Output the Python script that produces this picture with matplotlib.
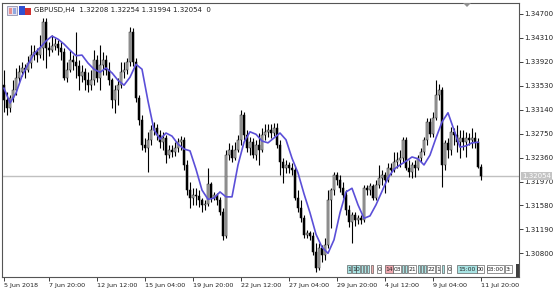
import matplotlib
matplotlib.use('Agg')
import matplotlib.pyplot as plt
from matplotlib.patches import Rectangle, Polygon
import numpy as np

header = 'GBPUSD,H4  1.32208 1.32254 1.31994 1.32054  0'
last_price = 1.32054

opens = [1.3354, 1.3330, 1.3317, 1.3333, 1.3346, 1.3366, 1.3375, 1.3382, 1.3379, 1.3390,
         1.3403, 1.3408, 1.3403, 1.3415, 1.3457, 1.3415, 1.3411, 1.3418, 1.3421, 1.3415,
         1.3408, 1.3366, 1.3379, 1.3395, 1.3392, 1.3385, 1.3369, 1.3375, 1.3362, 1.3354,
         1.3362, 1.3395, 1.3366, 1.3387, 1.3395, 1.3379, 1.3362, 1.3330, 1.3346, 1.3354,
         1.3375, 1.3379, 1.3392, 1.3441, 1.3392, 1.3333, 1.3297, 1.3256, 1.3252, 1.3265,
         1.3281, 1.3284, 1.3273, 1.3261, 1.3268, 1.3240, 1.3248, 1.3245, 1.3252, 1.3261,
         1.3265, 1.3224, 1.3183, 1.3170, 1.3175, 1.3173, 1.3167, 1.3159, 1.3160, 1.3193,
         1.3170, 1.3175, 1.3167, 1.3147, 1.3108, 1.3240, 1.3248, 1.3235, 1.3248, 1.3265,
         1.3305, 1.3273, 1.3252, 1.3261, 1.3240, 1.3256, 1.3248, 1.3273, 1.3278, 1.3281,
         1.3276, 1.3284, 1.3256, 1.3229, 1.3219, 1.3224, 1.3219, 1.3216, 1.3170, 1.3154,
         1.3137, 1.3110, 1.3113, 1.3108, 1.3082, 1.3056, 1.3089, 1.3077, 1.3093, 1.3167,
         1.3183, 1.3208, 1.3199, 1.3186, 1.3175, 1.3150, 1.3131, 1.3142, 1.3134, 1.3137,
         1.3134, 1.3186, 1.3183, 1.3190, 1.3170, 1.3191, 1.3203, 1.3208, 1.3199, 1.3219,
         1.3216, 1.3229, 1.3232, 1.3235, 1.3265, 1.3219, 1.3212, 1.3224, 1.3219, 1.3235,
         1.3245, 1.3265, 1.3294, 1.3274, 1.3300, 1.3338, 1.3346, 1.3224, 1.3260, 1.3248,
         1.3278, 1.3273, 1.3261, 1.3268, 1.3261, 1.3268, 1.3265, 1.3268, 1.3261, 1.32208]

highs = [1.3379, 1.3343, 1.3338, 1.3362, 1.3382, 1.3387, 1.3392, 1.3388, 1.3402, 1.3419,
         1.3419, 1.3415, 1.3436, 1.3463, 1.3463, 1.3424, 1.3436, 1.3431, 1.3428, 1.3424,
         1.3415, 1.3392, 1.3411, 1.3403, 1.3441, 1.3395, 1.3387, 1.3382, 1.3375, 1.3379,
         1.3411, 1.3403, 1.3419, 1.3408, 1.3403, 1.3392, 1.3366, 1.3354, 1.3366, 1.3392,
         1.3392, 1.3398, 1.3449, 1.3447, 1.3398, 1.3338, 1.3305, 1.3268, 1.3278, 1.3289,
         1.3294, 1.3291, 1.3281, 1.3278, 1.3273, 1.3256, 1.3256, 1.3261, 1.3268, 1.3271,
         1.3270, 1.3232, 1.3196, 1.3186, 1.3186, 1.3183, 1.3170, 1.3167, 1.3219, 1.3196,
         1.3180, 1.3178, 1.3172, 1.3154, 1.3248, 1.3260, 1.3256, 1.3261, 1.3273, 1.3314,
         1.3310, 1.3281, 1.3270, 1.3268, 1.3265, 1.3276, 1.3284, 1.3291, 1.3291, 1.3291,
         1.3292, 1.3292, 1.3265, 1.3235, 1.3232, 1.3229, 1.3227, 1.3222, 1.3183, 1.3167,
         1.3142, 1.3118, 1.3116, 1.3115, 1.3097, 1.3097, 1.3093, 1.3105, 1.3183, 1.3186,
         1.3212, 1.3212, 1.3208, 1.3196, 1.3183, 1.3159, 1.3147, 1.3147, 1.3142, 1.3142,
         1.3191, 1.3191, 1.3195, 1.3193, 1.3199, 1.3224, 1.3216, 1.3212, 1.3227, 1.3227,
         1.3245, 1.3245, 1.3248, 1.3270, 1.3270, 1.3232, 1.3229, 1.3232, 1.3240, 1.3252,
         1.3270, 1.3300, 1.3300, 1.3310, 1.3362, 1.3356, 1.3351, 1.3265, 1.3268, 1.3286,
         1.3284, 1.3289, 1.3281, 1.3281, 1.3278, 1.3276, 1.3284, 1.3278, 1.3268, 1.32254]

lows = [1.3310, 1.3305, 1.3310, 1.3327, 1.3338, 1.3359, 1.3369, 1.3366, 1.3375, 1.3382,
        1.3395, 1.3392, 1.3398, 1.3395, 1.3382, 1.3402, 1.3408, 1.3411, 1.3403, 1.3395,
        1.3362, 1.3359, 1.3375, 1.3379, 1.3366, 1.3346, 1.3359, 1.3346, 1.3343, 1.3346,
        1.3354, 1.3359, 1.3346, 1.3371, 1.3371, 1.3354, 1.3317, 1.3309, 1.3322, 1.3349,
        1.3366, 1.3372, 1.3385, 1.3385, 1.3327, 1.3289, 1.3248, 1.3245, 1.3212, 1.3256,
        1.3273, 1.3265, 1.3252, 1.3248, 1.3227, 1.3235, 1.3237, 1.3239, 1.3245, 1.3248,
        1.3216, 1.3175, 1.3154, 1.3159, 1.3159, 1.3155, 1.3147, 1.3150, 1.3157, 1.3164,
        1.3167, 1.3159, 1.3142, 1.3102, 1.3105, 1.3232, 1.3229, 1.3232, 1.3245, 1.3256,
        1.3265, 1.3245, 1.3240, 1.3235, 1.3232, 1.3224, 1.3245, 1.3265, 1.3270, 1.3268,
        1.3271, 1.3252, 1.3208, 1.3195, 1.3211, 1.3211, 1.3208, 1.3167, 1.3147, 1.3131,
        1.3105, 1.3105, 1.3102, 1.3077, 1.3049, 1.3053, 1.3066, 1.3069, 1.3089, 1.3121,
        1.3175, 1.3191, 1.3180, 1.3170, 1.3142, 1.3123, 1.3097, 1.3124, 1.3128, 1.3128,
        1.3131, 1.3175, 1.3175, 1.3167, 1.3167, 1.3186, 1.3191, 1.3178, 1.3196, 1.3208,
        1.3212, 1.3219, 1.3221, 1.3229, 1.3216, 1.3204, 1.3203, 1.3204, 1.3216, 1.3229,
        1.3240, 1.3256, 1.3270, 1.3270, 1.3297, 1.3330, 1.3188, 1.3216, 1.3235, 1.3240,
        1.3256, 1.3245, 1.3235, 1.3248, 1.3237, 1.3256, 1.3252, 1.3252, 1.3219, 1.31994]

closes = [1.3330, 1.3317, 1.3333, 1.3346, 1.3366, 1.3375, 1.3382, 1.3379, 1.3390, 1.3403,
          1.3408, 1.3403, 1.3415, 1.3457, 1.3415, 1.3411, 1.3418, 1.3421, 1.3415, 1.3408,
          1.3366, 1.3379, 1.3395, 1.3392, 1.3385, 1.3369, 1.3375, 1.3362, 1.3354, 1.3362,
          1.3395, 1.3366, 1.3387, 1.3395, 1.3379, 1.3362, 1.3330, 1.3346, 1.3354, 1.3375,
          1.3379, 1.3392, 1.3441, 1.3392, 1.3333, 1.3297, 1.3256, 1.3252, 1.3265, 1.3281,
          1.3284, 1.3273, 1.3261, 1.3268, 1.3240, 1.3248, 1.3245, 1.3252, 1.3261, 1.3265,
          1.3224, 1.3183, 1.3170, 1.3175, 1.3173, 1.3167, 1.3159, 1.3160, 1.3193, 1.3170,
          1.3175, 1.3167, 1.3147, 1.3108, 1.3240, 1.3248, 1.3235, 1.3248, 1.3265, 1.3305,
          1.3273, 1.3252, 1.3261, 1.3240, 1.3256, 1.3248, 1.3273, 1.3278, 1.3281, 1.3276,
          1.3284, 1.3256, 1.3229, 1.3219, 1.3224, 1.3219, 1.3216, 1.3170, 1.3154, 1.3137,
          1.3110, 1.3113, 1.3108, 1.3082, 1.3056, 1.3089, 1.3077, 1.3093, 1.3167, 1.3183,
          1.3208, 1.3199, 1.3186, 1.3175, 1.3150, 1.3131, 1.3142, 1.3134, 1.3137, 1.3134,
          1.3186, 1.3183, 1.3190, 1.3170, 1.3191, 1.3203, 1.3208, 1.3199, 1.3219, 1.3216,
          1.3229, 1.3232, 1.3235, 1.3265, 1.3219, 1.3212, 1.3224, 1.3219, 1.3235, 1.3245,
          1.3265, 1.3294, 1.3274, 1.3300, 1.3338, 1.3346, 1.3224, 1.3260, 1.3248, 1.3278,
          1.3273, 1.3261, 1.3268, 1.3261, 1.3268, 1.3265, 1.3268, 1.3261, 1.3221, 1.32054]

# moving average, read every second bar
ma = [1.3349, 1.3325, 1.3341, 1.3369, 1.3388, 1.3405, 1.3415, 1.3426, 1.3434, 1.3429,
      1.3421, 1.3411, 1.3402, 1.3403, 1.3390, 1.3380, 1.3375, 1.3382, 1.3374, 1.3362,
      1.3354, 1.3367, 1.3388, 1.3380, 1.3328, 1.3281, 1.3266, 1.3276, 1.3271, 1.3258,
      1.3250, 1.3247, 1.3217, 1.3183, 1.3168, 1.3170, 1.3180, 1.3172, 1.3172, 1.3224,
      1.3261, 1.3278, 1.3274, 1.3263, 1.3260, 1.3268, 1.3276, 1.3265, 1.3235, 1.3211,
      1.3177, 1.3146, 1.3111, 1.3090, 1.3080, 1.3102, 1.3146, 1.3180, 1.3186, 1.3159,
      1.3137, 1.3141, 1.3159, 1.3181, 1.3203, 1.3217, 1.3224, 1.3230, 1.3237, 1.3234,
      1.3224, 1.3240, 1.3268, 1.3294, 1.3309, 1.3281, 1.3253, 1.3255, 1.3260, 1.3261]

tick_bars = [0, 15, 31, 47, 63, 79, 95, 111, 127, 143, 159]
tick_labels = ['5 Jun 2018', '7 Jun 20:00', '12 Jun 12:00', '15 Jun 04:00',
               '19 Jun 20:00', '22 Jun 12:00', '27 Jun 04:00', '29 Jun 20:00',
               '4 Jul 12:00', '9 Jul 04:00', '11 Jul 20:00']
price_ticks = [1.34700, 1.34310, 1.33920, 1.33530, 1.33140, 1.32750,
               1.32360, 1.31970, 1.31580, 1.31190, 1.30800]

W, H = 560, 294
fig = plt.figure(figsize=(W / 100, H / 100), dpi=100)
fig.patch.set_facecolor('white')
ax = fig.add_axes([2 / W, 17 / H, 517 / W, 274 / H])

o = np.array(opens); h = np.array(highs); l = np.array(lows); c = np.array(closes)
x = np.arange(len(c))
up = c >= o

ax.axhline(last_price, color='#c0c0c0', lw=1, zorder=1)
ax.vlines(x, l, h, color='black', lw=0.8, zorder=2)
body = np.maximum(np.abs(c - o), 0.00004)
bot = np.minimum(o, c)
ax.bar(x[up], body[up], bottom=bot[up], width=0.62, color='#b0b0b0',
       edgecolor='#202020', lw=0.35, zorder=3)
ax.bar(x[~up], body[~up], bottom=bot[~up], width=0.62, color='black',
       edgecolor='black', lw=0.35, zorder=3)

ax.plot(np.arange(0, len(c), 2), ma, color='#5b4fd8', lw=1.2, zorder=4)

ax.set_xlim(-0.67, 171.67)
ax.set_ylim(1.30414, 1.34879)

ax.yaxis.tick_right()
ax.set_yticks(price_ticks)
ax.set_yticklabels(['%.5f' % p for p in price_ticks])
ax.set_xticks(tick_bars)
ax.set_xticklabels(tick_labels, ha='left')
ax.tick_params(axis='y', direction='out', length=3, width=0.6, pad=1,
               labelsize=5, colors='#202020')
ax.tick_params(axis='x', direction='out', length=3, width=0.6, pad=1.5,
               labelsize=4.6, colors='#202020')
for sp in ax.spines.values():
    sp.set_color('#555555')
    sp.set_linewidth(0.8)

# last price marker on the price scale
ax.text(1.006, last_price, '%.5f' % last_price, transform=ax.get_yaxis_transform(),
        fontsize=5, color='white', va='center', ha='left', zorder=10, clip_on=False,
        bbox=dict(boxstyle='square,pad=0.15', fc='#c4c4c4', ec='none'))

# overlay in pixel units for the terminal decorations
deco = fig.add_axes([0, 0, 1, 1], facecolor='none')
deco.set_xlim(0, W)
deco.set_ylim(H, 0)
deco.axis('off')

deco.text(34, 10, header, fontsize=5, color='#202020', va='center', ha='left')
deco.add_patch(Rectangle((7, 6), 10, 9, fc='#e6e0ee', ec='#8080a0', lw=0.5))
deco.add_patch(Rectangle((8.5, 8), 3, 5.5, fc='#e89090', ec='none'))
deco.add_patch(Rectangle((12.5, 8), 3, 5.5, fc='#90a8e0', ec='none'))
deco.add_patch(Rectangle((19, 6), 6, 9, fc='#3050d0', ec='none'))
deco.add_patch(Rectangle((25, 8), 6, 7, fc='#d03030', ec='none'))
deco.add_patch(Polygon([[463, 3], [471, 3], [467, 7]], closed=True, fc='#909090', ec='none'))

boxes = [('1', 347, 4, '#a8e4e4'), ('1', 352, 4, '#a8e4e4'), ('0', 356, 4, '#a8e4e4'),
         ('', 361, 1.5, '#a8e4e4'), ('', 364, 1.5, '#a8e4e4'), ('', 367, 1.5, '#a8e4e4'),
         ('', 371, 1.5, '#f0b0b0'), ('0', 377, 4, 'white'), ('14', 385, 8, '#f0a8b0'),
         ('03', 393, 8, 'white'), ('', 402, 1.5, '#a8e4e4'), ('', 405, 1.5, '#a8e4e4'),
         ('21', 408, 8, 'white'), ('', 418, 1.5, '#a8e4e4'), ('', 421, 1.5, '#a8e4e4'),
         ('', 424, 1.5, '#a8e4e4'), ('22', 427, 8, 'white'), ('1', 436, 4, 'white'),
         ('', 442, 1.5, '#a8e4e4'), ('0', 447, 4, 'white'), ('15:00', 457, 20, '#a8e4e4'),
         ('00', 477, 7, 'white'), ('03:00', 487, 17, 'white'), ('3:', 505, 7, 'white')]
for txt, bx, bw, fc in boxes:
    deco.add_patch(Rectangle((bx, 265), bw, 8, fc=fc, ec='#404040', lw=0.4))
    if txt:
        deco.text(bx + bw / 2, 269.3, txt, fontsize=4.3, ha='center', va='center', color='#202020')
deco.add_patch(Rectangle((515.5, 264), 3, 13, fc='#404040', ec='none'))

fig.savefig('out.png', dpi=100)
